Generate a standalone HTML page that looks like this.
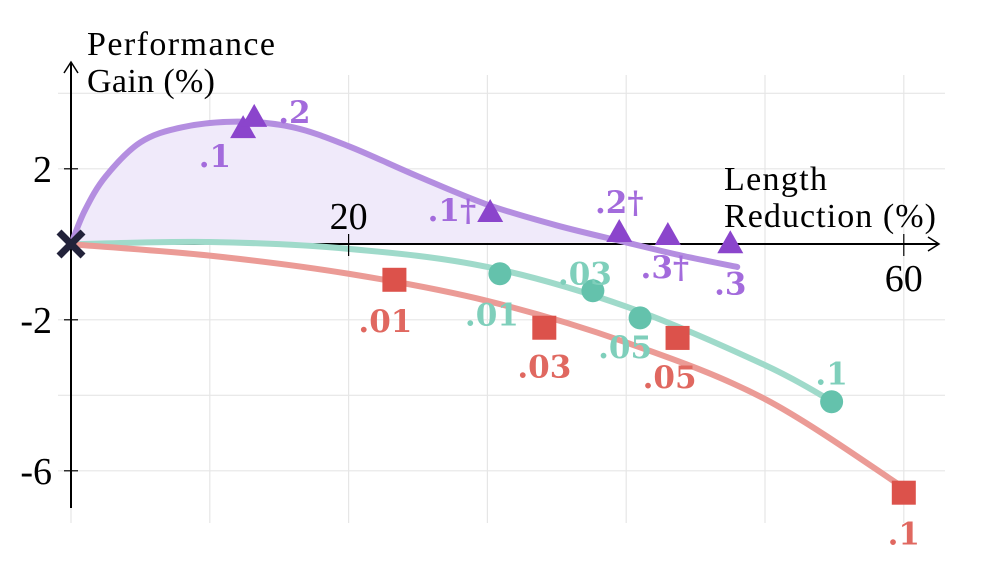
<!DOCTYPE html>
<html><head><meta charset="utf-8"><style>
html,body{margin:0;padding:0;background:#fff;width:997px;height:581px;overflow:hidden}
svg text{font-family:"Liberation Serif",serif}
svg text.lbl{font-family:"DejaVu Serif","Liberation Serif",serif}
</style></head><body>
<svg id="chart" width="997" height="581" viewBox="0 0 997 581" xmlns="http://www.w3.org/2000/svg">
<g id="grid"></g>
<path id="fillArea" fill="#f0eafa" stroke="none"/>
<g id="axes">
<line x1="71" y1="244" x2="938" y2="244" stroke="#000" stroke-width="2"/>
<path d="M928,237 L939,244 L928,251" fill="none" stroke="#000" stroke-width="1.5"/>
<line x1="71" y1="508" x2="71" y2="63" stroke="#000" stroke-width="2"/>
<path d="M64,73 L71,62 L78,73" fill="none" stroke="#000" stroke-width="1.5"/>
</g>
<g id="curves"></g>
<g id="ticks"></g>
<g id="marks"></g>
<text x="87" y="55" font-size="34" textLength="188">Performance</text>
<text x="87" y="92" font-size="34" textLength="128">Gain (%)</text>
<text x="724" y="190" font-size="34" textLength="103">Length</text>
<text x="724" y="227" font-size="34" textLength="212">Reduction (%)</text>
</svg>
<script>
const xTicks=[20,60];
const yTicks=[2,-2,-6];
const xGrid=[0,10,20,30,40,50,60];
const yGrid=[4,2,-2,-4,-6];
const purpleX=[13.2,30.2,39.5,43.0,47.5];
const purpleY=[3.35,0.83,0.3,0.22,0.0];
const purpleLabels=[".2",".1†",".2†",".3†",".3"];
const tealX=[30.9,37.6,41.0,54.8];
const tealY=[-0.78,-1.23,-1.95,-4.17];
const tealLabels=[".01",".03",".05",".1"];
const redX=[23.3,34.1,43.7,60.0];
const redY=[-0.94,-2.21,-2.48,-6.58];
const redLabels=[".01",".03",".05",".1"];
const purpleExtraX=[12.4];
const purpleExtraY=[3.05];
const purpleCurveX=[0,1,2.5,5,8,12,16,20,25,30,35,40,44,48];
const purpleCurveY=[0,0.9,1.8,2.7,3.1,3.25,3.1,2.6,1.8,1.05,0.5,0.05,-0.3,-0.6];
const tealCurveX=[0,10,20,30,40,50,55];
const tealCurveY=[0,0.06,-0.12,-0.6,-1.65,-3.2,-4.2];
const redCurveX=[0,10,20,30,40,50,60];
const redCurveY=[0,-0.3,-0.78,-1.5,-2.6,-4.1,-6.45];

const X=v=>71+v*13.88;
const Y=v=>244.3-v*37.75;
const NS="http://www.w3.org/2000/svg";
function mk(tag,attrs,parent,txt){const e=document.createElementNS(NS,tag);for(const k in attrs)e.setAttribute(k,attrs[k]);if(txt!==undefined)e.textContent=txt;document.getElementById(parent).appendChild(e);return e;}
function smooth(xs,ys){const p=xs.map((x,i)=>[X(x),Y(ys[i])]);let d="M"+p[0][0]+","+p[0][1];for(let i=0;i<p.length-1;i++){const p0=p[i-1]||p[i],p1=p[i],p2=p[i+1],p3=p[i+2]||p2;d+=" C"+(p1[0]+(p2[0]-p0[0])/6)+","+(p1[1]+(p2[1]-p0[1])/6)+" "+(p2[0]-(p3[0]-p1[0])/6)+","+(p2[1]-(p3[1]-p1[1])/6)+" "+p2[0]+","+p2[1];}return d;}

xGrid.forEach(v=>{const l=mk('line',{x1:X(v),x2:X(v),y1:75,y2:523,stroke:'#e6e6e6','stroke-width':1.2},'grid');

});
yGrid.forEach(v=>{const l=mk('line',{x1:58,x2:945,y1:Y(v),y2:Y(v),stroke:'#e6e6e6','stroke-width':1.2},'grid');

});

const pd=smooth(purpleCurveX.slice(0,12),purpleCurveY.slice(0,12));
document.getElementById('fillArea').setAttribute('d',pd+" L"+X(0)+","+Y(0)+" Z");

[[purpleCurveX,purpleCurveY,'#b48ee0','purple-curve'],[tealCurveX,tealCurveY,'#9fdaca','teal-curve'],[redCurveX,redCurveY,'#eb9b96','red-curve']].forEach(c=>{
const p=mk('path',{d:smooth(c[0],c[1]),fill:'none',stroke:c[2],'stroke-width':6,'stroke-linecap':'round'},'curves');

});

xTicks.forEach(v=>{const l=mk('line',{x1:X(v),x2:X(v),y1:234,y2:256,stroke:'#000','stroke-width':1.2},'ticks');


const t=mk('text',{x:X(v),y:229,'font-size':38,'text-anchor':'middle'},'ticks',String(v));
if(v===60)t.setAttribute('y',291);

});
yTicks.forEach(v=>{const l=mk('line',{x1:64,x2:78,y1:Y(v),y2:Y(v),stroke:'#000','stroke-width':1.2},'ticks');


const t=mk('text',{x:52,y:Y(v)+13,'font-size':38,'text-anchor':'end'},'ticks',String(v));

});

const o=mk('path',{d:"M59,232 L83,256 M83,232 L59,256",stroke:'#22223a','stroke-width':7},'marks');



const tri=(x,y)=>`M${x},${y-14} L${x+13},${y+9} L${x-13},${y+9} Z`;
purpleExtraX.forEach((v,i)=>{const p=mk('path',{d:tri(X(v),Y(purpleExtraY[i])),fill:'#8b45cc'},'marks');


const t=mk('text',{class:'lbl',x:X(v)-12,y:Y(purpleExtraY[i])+38,'font-size':31,'font-weight':'bold',fill:'#a36bdc','text-anchor':'end'},'marks','.1');

});
const pOff=[[24,5,'start'],[-14,8,'end'],[0,-20,'middle'],[-3,42,'middle'],[0,50,'middle']];
purpleX.forEach((v,i)=>{const p=mk('path',{d:tri(X(v),Y(purpleY[i])),fill:'#8b45cc'},'marks');


const t=mk('text',{class:'lbl',x:X(v)+pOff[i][0],y:Y(purpleY[i])+pOff[i][1],'font-size':31,'font-weight':'bold',fill:'#a36bdc','text-anchor':pOff[i][2]},'marks',purpleLabels[i]);

});
const tOff=[[-8,52],[-8,-6],[-15,40],[0,-17]];
tealX.forEach((v,i)=>{const c=mk('circle',{cx:X(v),cy:Y(tealY[i]),r:11.5,fill:'#64c2ac'},'marks');


const t=mk('text',{class:'lbl',x:X(v)+tOff[i][0],y:Y(tealY[i])+tOff[i][1],'font-size':31,'font-weight':'bold',fill:'#7fcfbb','text-anchor':'middle'},'marks',tealLabels[i]);

});
const rOff=[[-9,52],[0,50],[-8,50],[0,52]];
redX.forEach((v,i)=>{const r=mk('rect',{x:X(v)-12,y:Y(redY[i])-12,width:24,height:24,fill:'#dc524b'},'marks');


const t=mk('text',{class:'lbl',x:X(v)+rOff[i][0],y:Y(redY[i])+rOff[i][1],'font-size':31,'font-weight':'bold',fill:'#e06860','text-anchor':'middle'},'marks',redLabels[i]);

});
</script>
</body></html>
